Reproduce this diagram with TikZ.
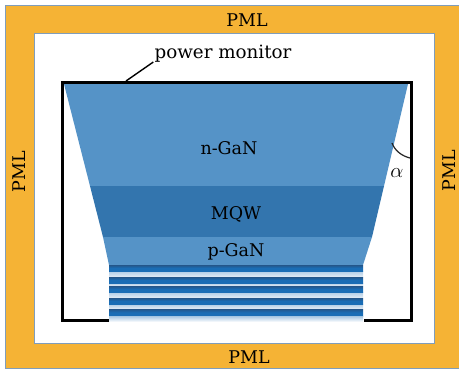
\documentclass[tikz,border=0pt]{standalone}
\usepackage{fontspec}
\setmainfont{DejaVu Serif}
\usetikzlibrary{calc}
\definecolor{pmlc}{HTML}{F5B335}
\definecolor{edgec}{HTML}{7F9DBB}
\definecolor{ngan}{HTML}{5593C7}
\definecolor{mqw}{HTML}{3375AE}
\definecolor{stripe}{HTML}{1A6DB5}
\definecolor{stripedark}{HTML}{24568A}
\definecolor{stripelight}{HTML}{E4EDF6}
\tikzset{
 lbl/.style={font=\fontsize{17.5}{20}\selectfont,inner sep=0pt,text=black},
 band/.style={top color=stripedark,bottom color=stripe,middle color=stripe,draw=none},
 gap/.style={top color=stripe!35,bottom color=stripelight,draw=none},
 monitor/.style={line width=3pt,draw=black},
}
\begin{document}
\begin{tikzpicture}[x=1pt,y=-1pt]
\useasboundingbox (0,0) rectangle (459,373);
\fill[white] (0,0) rectangle (459,373);
\draw[edgec,fill=pmlc,line width=0.8pt] (5,5) rectangle (462,368);
\draw[edgec,fill=white,line width=0.8pt] (34,33) rectangle (434,343);
% layers
\fill[ngan] (64,84) -- (408,84) -- (384,186) -- (90,186) -- cycle;
\fill[mqw] (90,186) -- (384,186) -- (372,237) -- (103,237) -- cycle;
\fill[ngan] (103,237) -- (372,237) -- (363,265) -- (109,265) -- cycle;
% DBR
\foreach \a/\b in {271/277,283/286,292/298,304/309}
  \shade[gap] (109,\a) rectangle (363,\b);
\foreach \a/\b in {265/271,277/283,286/292,298/304,309/316}
  \shade[band] (109,\a) rectangle (363,\b);
\shade[top color=stripe!40,bottom color=white] (109,316) rectangle (363,322);
% monitor
\coordinate (m1) at (109,320);
\coordinate (m2) at (62,320);
\coordinate (m3) at (62,82);
\coordinate (m4) at (411,82);
\coordinate (m5) at (411,320);
\coordinate (m6) at (364,320);
\draw[monitor] (m1) -- (m2) -- (m3) -- (m4) -- (m5) -- (m6);
% labels
\node[lbl] (p1) at (247,20) {PML};
\node[lbl] (p2) at (249,357) {PML};
\node[lbl,rotate=90] (p3) at (19,172) {PML};
\node[lbl,rotate=90] (p4) at (449,171) {PML};
\node[lbl,font=\fontsize{18.3}{20}\selectfont] (pm) at (223,54) {power monitor};
\node[lbl] (n) at (229,148) {n-GaN};
\node[lbl] (q) at (236,214) {MQW};
\node[lbl] (pg) at (236,252) {p-GaN};
\node[lbl,font=\fontsize{22}{24}\selectfont] (al) at (397,173) {$\alpha$};
\coordinate (mt) at (126,81);
\coordinate (me) at ($(pm.west)+(-1,8)$);
\draw[line width=1.4pt,black] (mt) -- (me);
\draw[line width=1.2pt,black!85] (392,143) .. controls (395,151) and (402,156) .. (410,158);
\end{tikzpicture}
\end{document}
